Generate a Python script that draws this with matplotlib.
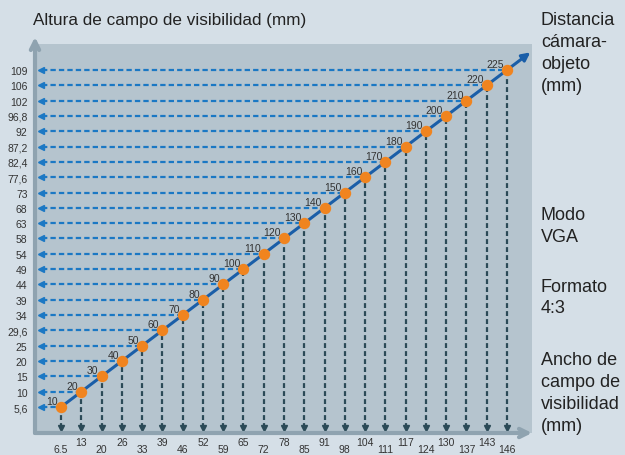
import matplotlib.pyplot as plt
import numpy as np

# ── DATOS ──────────────────────────────────────────────────
distancia = [10, 20, 30, 40, 50, 60, 70, 80, 90, 100, 110, 120,
             130, 140, 150, 160, 170, 180, 190, 200, 210, 220, 225]
ancho = [6.5, 13, 20, 26, 33, 39, 46, 52, 59, 65, 72, 78,
         85, 91, 98, 104, 111, 117, 124, 130, 137, 143, 146]
altura = [5.6, 10, 15, 20, 25, 29.6, 34, 39, 44, 49, 54, 58,
          63, 68, 73, 77.6, 82.4, 87.2, 92, 96.8, 102, 106, 109]
ancho_txt = ["6.5", "13", "20", "26", "33", "39", "46", "52", "59", "65", "72", "78",
             "85", "91", "98", "104", "111", "117", "124", "130", "137", "143", "146"]
altura_txt = ["5,6", "10", "15", "20", "25", "29,6", "34", "39", "44", "49", "54", "58",
              "63", "68", "73", "77,6", "82,4", "87,2", "92", "96,8", "102", "106", "109"]

# ── ESTILO ─────────────────────────────────────────────────
FONDO = "#d5dfe7"
AREA = "#b5c4ce"
EJE = "#8fa3b0"
AZUL = "#1b78c4"
AZUL_OSC = "#1a5ea8"
GRIS_OSC = "#2b4a57"
NARANJA = "#f0841f"
TEXTO = "#222222"

plt.rcParams["font.family"] = ["Liberation Sans", "DejaVu Sans"]

fig = plt.figure(figsize=(6.25, 4.56), dpi=100, facecolor=FONDO)
ax = fig.add_axes([35 / 625, 22 / 456, 497 / 625, 389 / 456])
ax.set_facecolor(AREA)
for s in ax.spines.values():
    s.set_visible(False)

n = len(distancia)
pos = np.arange(n)
ax.set_xlim(-1.283, n - 1 + 1.233)
ax.set_ylim(-1.697, n - 1 + 1.697)

# flechas discontinuas hacia el eje vertical (altura)
ax.hlines(pos, -0.95, pos, colors=AZUL, lw=1.6, linestyles=(0, (2.4, 1.4)), zorder=2)
ax.plot(np.full(n, -0.99), pos, ls="none", marker="<", ms=5, color=AZUL, zorder=2)

# flechas discontinuas hacia el eje horizontal (ancho)
ax.vlines(pos, -1.35, pos, colors=GRIS_OSC, lw=1.6, linestyles=(0, (2.2, 1.4)), zorder=2)
ax.plot(pos, np.full(n, -1.37), ls="none", marker="v", ms=5, color=GRIS_OSC, zorder=2)

# diagonal con flecha
ax.plot(pos, pos, color=AZUL_OSC, lw=2.2, zorder=3, solid_capstyle="butt")
ax.annotate("", xy=(pos[-1] + 1.15, pos[-1] + 1.15), xytext=(pos[-1], pos[-1]),
            arrowprops=dict(arrowstyle="-|>", color=AZUL_OSC, lw=2.2,
                            mutation_scale=12, shrinkA=0, shrinkB=0),
            annotation_clip=False, zorder=3)

ax.plot(pos, pos, ls="none", marker="o", ms=7.2, color=NARANJA, zorder=5)
for i, d in enumerate(distancia):
    ax.annotate(str(d), (pos[i], pos[i]), xytext=(-3, 3), textcoords="offset pixels",
                ha="right", va="baseline", fontsize=7.5, color="#333333", zorder=6)

# ejes con flecha
ax.annotate("", xy=(0, 1.018), xytext=(0, 0), xycoords="axes fraction",
            arrowprops=dict(arrowstyle="->", color=EJE, lw=3, mutation_scale=15,
                            shrinkA=0, shrinkB=0), annotation_clip=False)
ax.annotate("", xy=(1.0, 0), xytext=(0, 0), xycoords="axes fraction",
            arrowprops=dict(arrowstyle="->", color=EJE, lw=3, mutation_scale=15,
                            shrinkA=0, shrinkB=0), annotation_clip=False)

ax.set_yticks(pos, altura_txt)
ax.set_xticks(pos, ancho_txt)
ax.tick_params(axis="both", length=0, labelsize=7.5, labelcolor="#333333")
ax.tick_params(axis="y", pad=5.4)
for i, t in enumerate(ax.xaxis.get_major_ticks()):
    t.set_pad(3.0 if i % 2 else 8.2)

# textos
fig.text(33 / 625, 1 - 20 / 456, "Altura de campo de visibilidad (mm)",
         fontsize=12.3, va="center", ha="left", color=TEXTO)
xr = 541 / 625
bloques = [("Distancia\ncámara-\nobjeto\n(mm)", 53.5),
           ("Modo\nVGA", 226.5),
           ("Formato\n4:3", 298),
           ("Ancho de\ncampo de\nvisibilidad\n(mm)", 393.5)]
for txt, yc in bloques:
    fig.text(xr, 1 - yc / 456, txt, fontsize=13, va="center", ha="left",
             color=TEXTO, linespacing=1.36)

fig.savefig("out.png", dpi=100, facecolor=FONDO)
